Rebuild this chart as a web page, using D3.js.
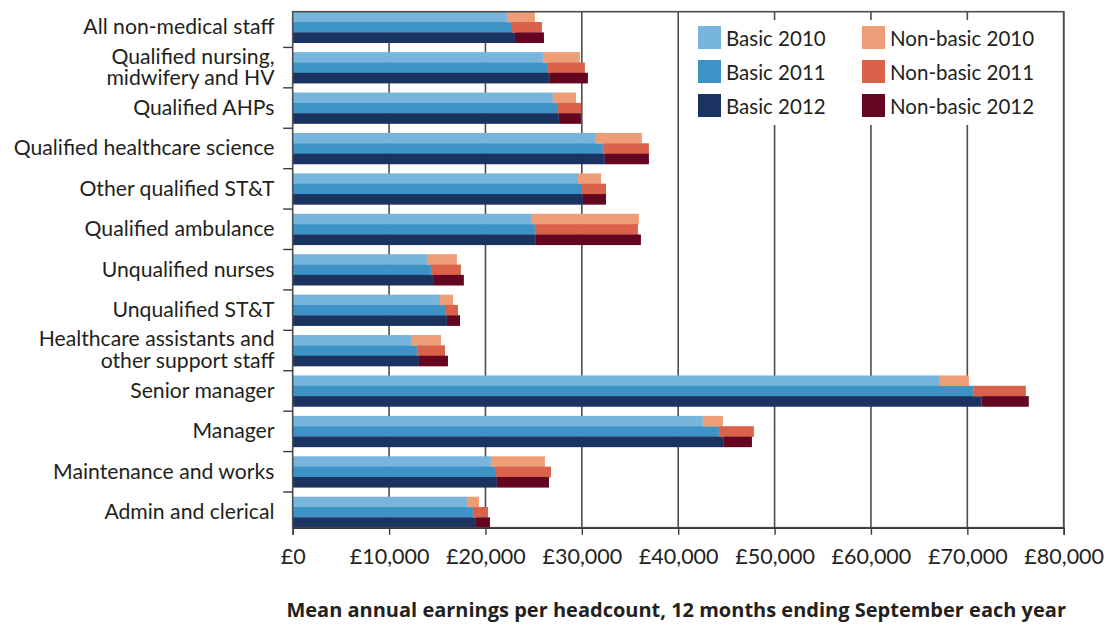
<!DOCTYPE html>
<html>
<head>
<meta charset="utf-8">
<script src="https://cdn.jsdelivr.net/npm/d3@7"></script>
<style>
  body { margin: 0; background: #fff; }
  text { font-family: Lato, "Open Sans", sans-serif; fill: #231f20; }
</style>
</head>
<body>
<div id="canvas"></div>
<script>
"use strict"

/* Data */
const categories = [
    "All non-medical staff",
    "Qualified nursing,\nmidwifery and HV",
    "Qualified AHPs",
    "Qualified healthcare science",
    "Other qualified ST&T",
    "Qualified ambulance",
    "Unqualified nurses",
    "Unqualified ST&T",
    "Healthcare assistants and\nother support staff",
    "Senior manager",
    "Manager",
    "Maintenance and works",
    "Admin and clerical"
];
const years = ["2010", "2011", "2012"];
const basic2010 = [22230, 25960, 27000, 31460, 29600, 24820, 13930, 15280, 12370, 67150, 42560, 20570, 18080];
const basic2011 = [22750, 26480, 27520, 32180, 30010, 25130, 14340, 15800, 12890, 70600, 44220, 21090, 18700];
const basic2012 = [23060, 26690, 27620, 32390, 30110, 25230, 14660, 16000, 13100, 71500, 44740, 21190, 19010];
const nonBasic2010 = [2900, 3840, 2390, 4770, 2390, 11100, 3110, 1350, 3010, 3010, 2080, 5600, 1250];
const nonBasic2011 = [3110, 3840, 2420, 4780, 2500, 10690, 3110, 1350, 2910, 5470, 3630, 5710, 1560];
const nonBasic2012 = [3010, 3940, 2290, 4570, 2400, 10900, 3100, 1360, 3010, 4880, 2910, 5400, 1460];
const xTicks = [0, 10000, 20000, 30000, 40000, 50000, 60000, 70000, 80000];

const basicColours = ["#78b5dd", "#3d93c6", "#1b3361"];
const nonBasicColours = ["#ee9e76", "#da624b", "#650620"];

const basicByYear = [basic2010, basic2011, basic2012];
const nonBasicByYear = [nonBasic2010, nonBasic2011, nonBasic2012];

/* Canvas */
let drawing = d3.select("#canvas")
    .append("svg")
    .attr("width", 1108)
    .attr("height", 626);

let plotLeft = 292.7, plotRight = 1063.7, plotTop = 11.7, plotBottom = 527.7;

let x = d3.scaleLinear()
    .domain([0, 80000])
    .range([plotLeft, plotRight]);

let y = d3.scaleBand()
    .domain(categories)
    .range([plotTop, plotBottom])
    .paddingInner(0.233)
    .paddingOuter(0);

let yearScale = d3.scaleBand()
    .domain(years)
    .range([0, y.bandwidth()]);

/* Gridlines */
drawing.append("g")
    .selectAll("line")
    .data(xTicks.slice(1))
    .join("line")
    .attr("x1", d => x(d))
    .attr("x2", d => x(d))
    .attr("y1", plotTop)
    .attr("y2", plotBottom)
    .attr("stroke", "#4d4d4d")
    .attr("stroke-width", 1.6);

/* Bars: basic then non-basic stacked on the end */
let rows = [];
categories.forEach((c, i) => {
    years.forEach((yr, j) => {
        rows.push({
            cat: c,
            year: yr,
            basic: basicByYear[j][i],
            extra: nonBasicByYear[j][i],
            j: j
        });
    });
});

let bars = drawing.append("g");

bars.selectAll("rect.basic")
    .data(rows)
    .join("rect")
    .attr("class", "basic")
    .attr("x", x(0))
    .attr("y", d => y(d.cat) + yearScale(d.year))
    .attr("width", d => x(d.basic) - x(0))
    .attr("height", yearScale.bandwidth() + 0.3)
    .attr("fill", d => basicColours[d.j]);

bars.selectAll("rect.extra")
    .data(rows)
    .join("rect")
    .attr("class", "extra")
    .attr("x", d => x(d.basic))
    .attr("y", d => y(d.cat) + yearScale(d.year))
    .attr("width", d => x(d.basic + d.extra) - x(d.basic))
    .attr("height", yearScale.bandwidth() + 0.3)
    .attr("fill", d => nonBasicColours[d.j]);

/* Legend box (white, covers the gridlines) */
let legend = drawing.append("g");

legend.append("rect")
    .attr("x", 682)
    .attr("y", 20)
    .attr("width", 378)
    .attr("height", 105)
    .attr("fill", "#fff");

let legendItems = [];
years.forEach((yr, j) => {
    legendItems.push({ label: "Basic " + yr, colour: basicColours[j], col: 0, row: j });
    legendItems.push({ label: "Non-basic " + yr, colour: nonBasicColours[j], col: 1, row: j });
});

let item = legend.selectAll("g.item")
    .data(legendItems)
    .join("g")
    .attr("class", "item")
    .attr("transform", d => `translate(${d.col ? 862 : 698}, ${26 + d.row * 34})`);

item.append("rect")
    .attr("width", 23)
    .attr("height", 23)
    .attr("fill", d => d.colour);

item.append("text")
    .attr("x", 28)
    .attr("y", 19.7)
    .attr("font-size", 20.5)
    .text(d => d.label);

/* Plot frame */
drawing.append("rect")
    .attr("x", plotLeft)
    .attr("y", plotTop)
    .attr("width", plotRight - plotLeft)
    .attr("height", plotBottom - plotTop)
    .attr("fill", "none")
    .attr("stroke", "#4d4d4d")
    .attr("stroke-width", 1.6);

/* Bottom axis */
let xAxis = drawing.append("g")
    .attr("transform", `translate(0, ${plotBottom})`)
    .call(d3.axisBottom(x)
        .tickValues(xTicks)
        .tickSize(7)
        .tickPadding(14)
        .tickFormat(d => "£" + d3.format(",")(d)));

xAxis.select(".domain")
    .attr("stroke", "#3a3a3a")
    .attr("stroke-width", 1.6);
xAxis.selectAll(".tick line")
    .attr("stroke", "#3a3a3a")
    .attr("stroke-width", 1.4);
xAxis.selectAll(".tick text")
    .attr("font-size", 21.5)
    .attr("fill", "#231f20");

/* Left axis ticks between the groups */
let step = y.step();
let gap = step - y.bandwidth();
drawing.append("g")
    .selectAll("line")
    .data(categories.slice(1))
    .join("line")
    .attr("x1", plotLeft - 9.5)
    .attr("x2", plotLeft)
    .attr("y1", d => y(d) - gap / 2)
    .attr("y2", d => y(d) - gap / 2)
    .attr("stroke", "#3a3a3a")
    .attr("stroke-width", 1.4);

/* Category labels */
let labels = drawing.append("g")
    .selectAll("text")
    .data(categories)
    .join("text")
    .attr("text-anchor", "end")
    .attr("font-size", 21.2)
    .attr("x", 274.5)
    .attr("y", d => y(d) + y.bandwidth() / 2 + 6.8);

labels.each(function(d) {
    let lines = d.split("\n");
    let t = d3.select(this);
    lines.forEach((line, k) => {
        t.append("tspan")
            .attr("x", 274.5)
            .attr("dy", k === 0 ? -(lines.length - 1) * 21.7 / 2 : 21.7)
            .text(line);
    });
});

/* Axis title */
drawing.append("text")
    .attr("x", (plotLeft + plotRight) / 2 - 2)
    .attr("y", 617)
    .attr("text-anchor", "middle")
    .style("font-family", "'Open Sans', sans-serif")
    .attr("font-size", 20)
    .attr("font-weight", "bold")
    .text("Mean annual earnings per headcount, 12 months ending September each year");
</script>
</body>
</html>
